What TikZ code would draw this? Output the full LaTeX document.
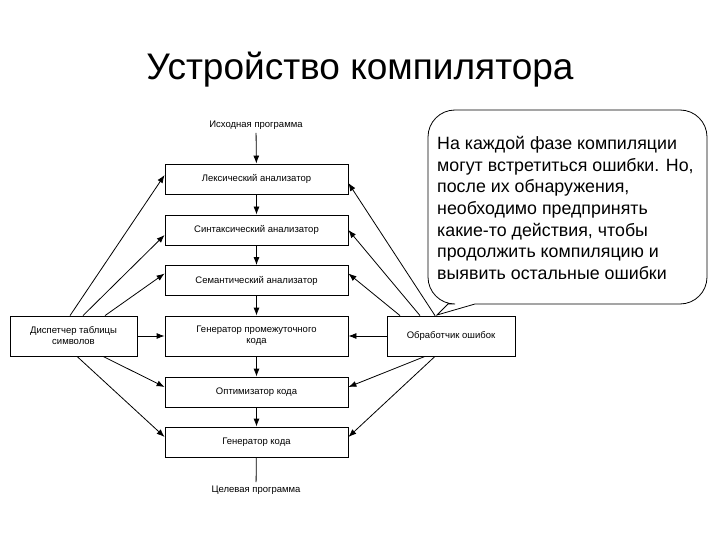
\documentclass[tikz,border=0pt]{standalone}
\usepackage{fontspec}
\setmainfont{Liberation Sans}
\usetikzlibrary{arrows.meta}
\begin{document}
\begin{tikzpicture}[x=1pt,y=-1pt,
  box/.style={draw,thick,minimum height=30pt,inner sep=1pt,font=\fontsize{9.5}{11}\selectfont,align=center},
  cbox/.style={box,minimum width=183pt},
  ar/.style={thick,-{Latex[length=8pt,width=6pt]}}]
\useasboundingbox[fill=white] (0,0) rectangle (720,540);
\node[font=\fontsize{37}{40}\selectfont] (title) at (360,70) {Устройство компилятора};
\node[font=\fontsize{9.5}{11}\selectfont] (src) at (256,125) {Исходная программа};
\node[font=\fontsize{9.5}{11}\selectfont] (dst) at (256,490) {Целевая программа};
\node[cbox] (lex) at (256.5,179) {Лексический анализатор};
\node[cbox] (syn) at (256.5,230) {Синтаксический анализатор};
\node[cbox] (sem) at (256.5,280.5) {Семантический анализатор};
\node[cbox,minimum height=40pt] (gen) at (256.5,336) {Генератор промежуточного\\кода};
\node[cbox] (opt) at (256.5,392) {Оптимизатор кода};
\node[cbox] (code) at (256.5,442) {Генератор кода};
\node[box,minimum width=127pt,minimum height=40pt] (tab) at (73.5,336) {Диспетчер таблицы\\символов};
\node[box,minimum width=128pt,minimum height=40pt] (err) at (451,336) {Обработчик ошибок};
\draw[ar] (src) -- (lex);
\draw[ar] (lex) -- (syn);
\draw[ar] (syn) -- (sem);
\draw[ar] (sem) -- (gen);
\draw[ar] (gen) -- (opt);
\draw[ar] (opt) -- (code);
\draw[thick] (code) -- (dst);
% left
\draw[ar] ([xshift=-3.5pt]tab.north) -- ([yshift=4pt]lex.west);
\draw[ar] ([xshift=9.5pt]tab.north) -- ([yshift=-5pt]syn.west);
\draw[ar] ([xshift=31.5pt]tab.north) -- ([yshift=7pt]sem.west);
\draw[ar] (tab) -- (gen);
\draw[ar] ([xshift=29.5pt]tab.south) -- ([yshift=5pt]opt.west);
\draw[ar] ([xshift=3.5pt]tab.south) -- ([yshift=5pt]code.west);
% right
\draw[ar] ([xshift=-16pt]err.north) -- ([yshift=-4pt]lex.east);
\draw[ar] ([xshift=-31pt]err.north) -- ([yshift=0pt]syn.east);
\draw[ar] ([xshift=-51pt]err.north) -- ([yshift=7pt]sem.east);
\draw[ar] (err) -- (gen);
\draw[ar] ([xshift=-26pt]err.south) -- ([yshift=5pt]opt.east);
\draw[ar] ([xshift=-16pt]err.south) -- ([yshift=5pt]code.east);
% callout
\coordinate (tip) at (437,315);
\draw[thick] (tip) -- (475,304) [rounded corners=27pt] -- (707,304) -- (707,110) -- (428,110) -- (428,304) [sharp corners] -- (448,304) -- cycle;
\node[anchor=north west,align=left,inner sep=0pt,font=\fontsize{17.8}{21.7}\selectfont] (note) at (437,136)
 {На каждой фазе компиляции\\могут встретиться ошибки. Но,\\после их обнаружения,\\необходимо предпринять\\какие-то действия, чтобы\\продолжить компиляцию и\\выявить остальные ошибки};
\end{tikzpicture}
\end{document}
